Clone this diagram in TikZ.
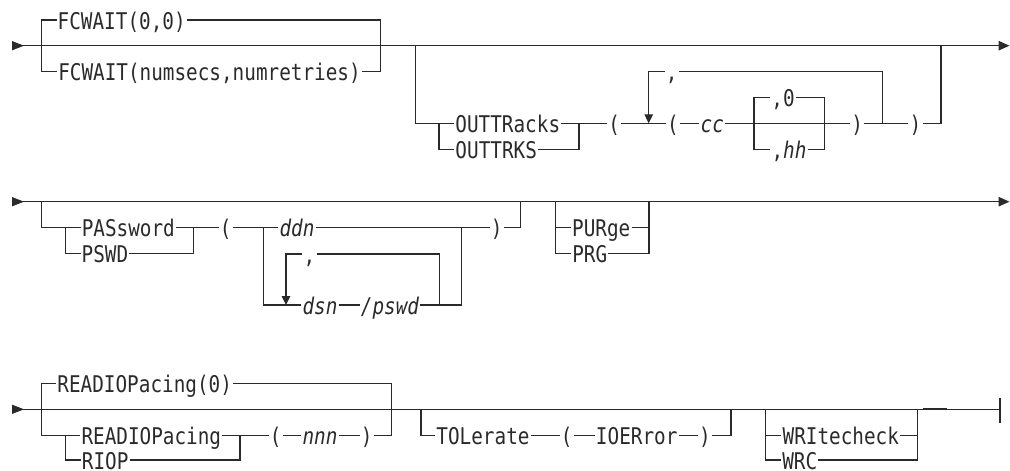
\documentclass[tikz,border=0pt]{standalone}
\usepackage{fontspec}
\usetikzlibrary{arrows.meta}
\newfontfamily\rr{DejaVu Sans Mono}[FakeStretch=0.84]
\definecolor{ink}{HTML}{2A2A2A}
\tikzset{
  rail/.style={line width=1.1pt, draw=ink},
  lbl/.style={font=\rr\fontsize{23}{25}\selectfont, text=ink, inner xsep=1pt, inner ysep=0pt,
              text height=18.4pt, text depth=0pt, anchor=center},
  var/.style={lbl, font=\rr\itshape\fontsize{23}{25}\selectfont},
  endtip/.style={-{Triangle[length=11pt,width=9.5pt]}},
  looptip/.style={-{Triangle[length=9pt,width=8.5pt]}},
  startmark/.style={fill=ink},
}
\begin{document}
\begin{tikzpicture}[x=1pt,y=-1pt]
\useasboundingbox (0,0) rectangle (1010,471);

% ================= Row 1 =================
\coordinate (s1) at (12,45.7);
\coordinate (e1) at (1009.5,45.7);
\fill[startmark] (s1) ++(0,-4.7) -- ++(12,4.7) -- ++(-12,4.7) -- cycle;
\draw[rail,endtip] (s1) -- (e1);

% FCWAIT
\coordinate (f0) at (41.7,20);
\coordinate (f1) at (41.7,71.5);
\coordinate (f2) at (380.7,20);
\coordinate (f3) at (380.7,71.5);
\node[lbl] (fc1) at (121.7,20) {FCWAIT(0,0)};
\node[lbl] (fc2) at (209.5,71.5) {FCWAIT(numsecs,numretries)};
\draw[rail] (fc1.west) -- (f0) -- (f1) -- (fc2.west);
\draw[rail] (fc1.east) -- (f2) -- (f3) -- (fc2.east);

% OUTTRacks
\coordinate (o0) at (415.7,45.7);
\coordinate (o1) at (415.7,123.3);
\coordinate (oi0) at (439,123.3);
\coordinate (oi1) at (439,149.3);
\coordinate (oi2) at (579,123.3);
\coordinate (oi3) at (579,149.3);
\coordinate (oR0) at (941,45.7);
\coordinate (oR1) at (941,123.3);
\node[lbl] (ot1) at (507.8,123.3) {OUTTRacks};
\node[lbl] (ot2) at (496.2,149.3) {OUTTRKS};
\draw[rail] (o0) -- (o1) -- (ot1.west);
\draw[rail] (oi0) -- (oi1) -- (ot2.west);
\draw[rail] (ot1.east) -- (oi2);
\draw[rail] (ot2.east) -- (oi3) -- (oi2);
\node[lbl] (lp1) at (614.3,123.3) {(};
\coordinate (dn1) at (648.7,123.3);
\node[lbl] (lp2) at (673,123.3) {(};
\node[var] (cc) at (712.3,123.3) {cc};
\coordinate (b0) at (754,123.3);
\coordinate (bt0) at (754,97.7);
\coordinate (bb0) at (754,149.3);
\coordinate (b1) at (824.3,123.3);
\coordinate (bt1) at (824.3,97.7);
\coordinate (bb1) at (824.3,149.3);
\node[lbl] (z0) at (783,97.7) {,0};
\node[lbl] (hh) at (789,149.3) {,\textit{hh}};
\node[lbl] (rp1) at (857.3,123.3) {)};
\coordinate (lr1) at (882.7,123.3);
\node[lbl] (rp2) at (915.5,123.3) {)};
\draw[rail] (oi2) -- (lp1.west);
\draw[rail] (lp1.east) -- (dn1) -- (lp2.west);
\draw[rail] (lp2.east) -- (cc.west);
\draw[rail] (cc.east) -- (b0) -- (b1) -- (rp1.west);
\draw[rail] (z0.west) -- (bt0) -- (bb0) -- (hh.west);
\draw[rail] (z0.east) -- (bt1) -- (bb1) -- (hh.east);
\draw[rail] (rp1.east) -- (lr1) -- (rp2.west);
\draw[rail] (rp2.east) -- (oR1) -- (oR0);
% repeat loop
\coordinate (lt0) at (648.7,71.7);
\coordinate (lt1) at (882.7,71.7);
\node[lbl] (cm1) at (671.7,71.7) {,};
\draw[rail] (lr1) -- (lt1) -- (cm1.east);
\draw[rail,looptip] (cm1.west) -- (lt0) -- (dn1);

% ================= Row 2 =================
\coordinate (s2) at (12,201.7);
\coordinate (e2) at (1009.5,201.7);
\fill[startmark] (s2) ++(0,-4.7) -- ++(12,4.7) -- ++(-12,4.7) -- cycle;
\draw[rail,endtip] (s2) -- (e2);

\coordinate (p0) at (41.7,201.7);
\coordinate (p1) at (41.7,227.7);
\coordinate (pi0) at (65.7,227.7);
\coordinate (pi1) at (65.7,253.5);
\coordinate (pi2) at (193.3,227.7);
\coordinate (pi3) at (193.3,253.5);
\node[lbl] (pw1) at (128.3,227.7) {PASsword};
\node[lbl] (pw2) at (105,253.5) {PSWD};
\draw[rail] (p0) -- (p1) -- (pw1.west);
\draw[rail] (pi0) -- (pi1) -- (pw2.west);
\draw[rail] (pw1.east) -- (pi2);
\draw[rail] (pw2.east) -- (pi3) -- (pi2);
\node[lbl] (lp3) at (225.8,227.7) {(};
\draw[rail] (pi2) -- (lp3.west);
\coordinate (d0) at (263.3,227.7);
\coordinate (d1) at (263.3,305);
\coordinate (d2) at (461.7,227.7);
\coordinate (d3) at (461.7,305);
\node[var] (ddn) at (297,227.7) {ddn};
\coordinate (dn2) at (286,305);
\coordinate (lt2) at (286,254);
\coordinate (lt3) at (439.3,254);
\coordinate (lr2) at (439.3,305);
\node[lbl] (cm2) at (309.5,254) {,};
\node[var] (dsn) at (320,305) {dsn};
\node[var] (pswd) at (390,305) {/pswd};
\node[lbl] (rp3) at (496.7,227.7) {)};
\coordinate (q0) at (520.7,201.7);
\coordinate (q1) at (520.7,227.7);
\draw[rail] (lp3.east) -- (d0) -- (ddn.west);
\draw[rail] (d0) -- (d1) -- (dn2) -- (dsn.west);
\draw[rail] (dsn.east) -- (pswd.west);
\draw[rail] (pswd.east) -- (lr2) -- (d3);
\draw[rail] (ddn.east) -- (d2) -- (d3);
\draw[rail] (lr2) -- (lt3) -- (cm2.east);
\draw[rail,looptip] (cm2.west) -- (lt2) -- (dn2);
\draw[rail] (d2) -- (rp3.west);
\draw[rail] (rp3.east) -- (q1) -- (q0);

% PURge
\coordinate (u0) at (555.7,201.7);
\coordinate (u1) at (555.7,253.5);
\coordinate (u2) at (649,201.7);
\coordinate (u3) at (649,253.5);
\node[lbl] (pg1) at (601.3,227.7) {PURge};
\node[lbl] (pg2) at (589.8,253.5) {PRG};
\draw[rail] (u0) -- (u1) -- (pg2.west);
\draw[rail] (pg1.west) -- (pg1.west -| u0);
\draw[rail] (u2) -- (u3) -- (pg2.east);
\draw[rail] (pg1.east) -- (pg1.east -| u2);

% ================= Row 3 =================
\coordinate (s3) at (12,409.3);
\coordinate (eb) at (1000,409.3);
\coordinate (eb0) at (1000,397.5);
\coordinate (eb1) at (1000,422.5);
\fill[startmark] (s3) ++(0,-4.7) -- ++(12,4.7) -- ++(-12,4.7) -- cycle;
\draw[rail] (s3) -- (eb);
\draw[rail] (eb0) -- (eb1);

% READIOPacing
\coordinate (r0) at (41.7,383.3);
\coordinate (r1) at (41.7,435.5);
\coordinate (r2) at (391.7,383.3);
\coordinate (r3) at (391.7,435.5);
\coordinate (ri0) at (65.7,435.5);
\coordinate (ri1) at (65.7,460);
\coordinate (ri2) at (240,435.5);
\coordinate (ri3) at (240,460);
\node[lbl] (rd0) at (144.7,383.3) {READIOPacing(0)};
\node[lbl] (rd1) at (151.3,435.5) {READIOPacing};
\node[lbl] (riop) at (105.2,460) {RIOP};
\node[lbl] (lp4) at (275.8,435.5) {(};
\node[var] (nnn) at (320,435.5) {nnn};
\node[lbl] (rp4) at (366.7,435.5) {)};
\draw[rail] (rd0.west) -- (r0) -- (r1) -- (rd1.west);
\draw[rail] (rd0.east) -- (r2) -- (r3) -- (rp4.east);
\draw[rail] (ri0) -- (ri1) -- (riop.west);
\draw[rail] (rd1.east) -- (ri2) -- (lp4.west);
\draw[rail] (riop.east) -- (ri3) -- (ri2);
\draw[rail] (lp4.east) -- (nnn.west);
\draw[rail] (nnn.east) -- (rp4.west);

% TOLerate
\coordinate (t0) at (421,409.3);
\coordinate (t1) at (421,435.5);
\coordinate (t2) at (731,409.3);
\coordinate (t3) at (731,435.5);
\node[lbl] (tol) at (483,435.5) {TOLerate};
\node[lbl] (lp5) at (566.7,435.5) {(};
\node[lbl] (ioe) at (636.7,435.5) {IOERror};
\node[lbl] (rp5) at (705,435.5) {)};
\draw[rail] (t0) -- (t1) -- (tol.west);
\draw[rail] (tol.east) -- (lp5.west);
\draw[rail] (lp5.east) -- (ioe.west);
\draw[rail] (ioe.east) -- (rp5.west);
\draw[rail] (rp5.east) -- (t3) -- (t2);

% WRItecheck
\coordinate (w0) at (765.7,409.3);
\coordinate (w1) at (765.7,460);
\coordinate (w2) at (917.3,409.3);
\coordinate (w3) at (917.3,460);
\node[lbl] (wr1) at (840.8,435.5) {WRItecheck};
\node[lbl] (wrc) at (799.8,460) {WRC};
\draw[rail] (w0) -- (w1) -- (wrc.west);
\draw[rail] (wr1.west) -- (wr1.west -| w0);
\draw[rail] (w2) -- (w3) -- (wrc.east);
\draw[rail] (wr1.east) -- (wr1.east -| w2);
\coordinate (k0) at (923,409.3);
\coordinate (k1) at (946.7,409.3);
\draw[rail,line width=1.8pt] (k0) -- (k1);
\end{tikzpicture}
\end{document}
